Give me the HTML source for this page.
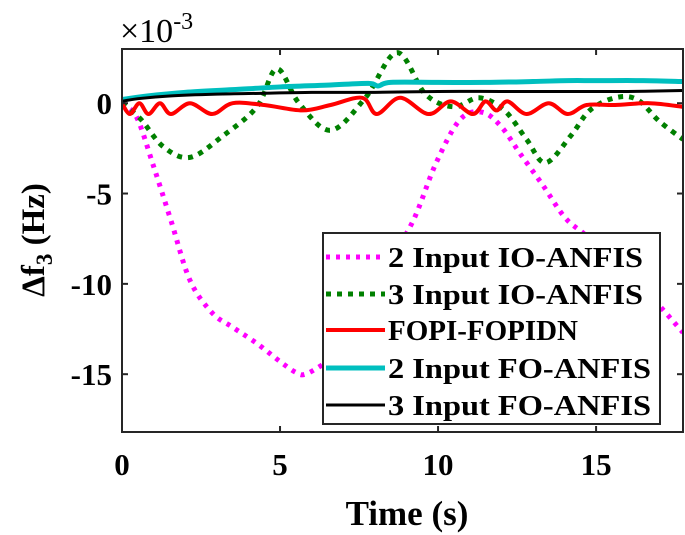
<!DOCTYPE html>
<html><head><meta charset="utf-8"><style>
body{margin:0;background:#fff}
svg{display:block;font-family:"Liberation Serif",serif;font-weight:bold}
</style></head><body>
<svg id="chart" width="685" height="535" viewBox="0 0 685 535" xmlns="http://www.w3.org/2000/svg">
<g id="plot"></g>
<g id="axes"></g>
<text transform="translate(44,240) rotate(-90)" text-anchor="middle" font-size="33">Δf<tspan font-size="23" dy="8">3</tspan><tspan dy="-8"> (Hz)</tspan></text>
<text x="407" y="525" text-anchor="middle" font-size="35">Time (s)</text>
<text x="120" y="42" font-size="34" font-weight="normal">×10<tspan font-size="24" dy="-13">-3</tspan></text>
<g id="legend"></g>
</svg>
<script>
const xTicks=[0,5,10,15];
const yTicks=[0,-5,-10,-15];
const seriesNames=["2 Input IO-ANFIS","3 Input IO-ANFIS","FOPI-FOPIDN","2 Input FO-ANFIS","3 Input FO-ANFIS"];
const magX=[0,0.47,1.0,1.55,2.15,2.85,3.5,4.27,5.0,5.5,5.8,6.4,7.0,7.5,8.0,8.5,9.24,9.94,10.7,11.4,12.0,12.6,13.3,14.0,14.6,15.5,16.3,17.05,17.75];
const magY=[0,-0.8,-3.5,-6.5,-9.8,-11.6,-12.4,-13.3,-14.3,-14.9,-15.0,-14.4,-13.5,-12.0,-10.3,-8.7,-6.4,-3.3,-0.9,-0.5,-1.3,-2.8,-4.5,-6.3,-7.2,-8.5,-9.9,-11.3,-12.7];
const grnX=[0,0.6,1.3,2.15,3.2,4.27,4.9,5.6,6.6,7.7,8.7,9.6,10.5,11.3,12.1,12.8,13.4,14.2,14.8,15.6,16.3,17.0,17.75];
const grnY=[0,-0.9,-2.4,-3.0,-1.8,-0.2,1.9,0,-1.5,0.3,2.8,0.5,-0.2,0.3,-0.4,-2.0,-3.3,-1.8,-0.4,0.3,0.2,-1.0,-2.0];
const redX=[0,0.25,0.55,0.84,1.2,1.55,2.15,2.85,3.5,4.5,5.7,6.6,7.6,8.06,8.8,9.7,10.4,11.1,11.5,11.85,12.2,12.8,13.5,14.1,14.7,15.6,16.7,17.75];
const redY=[0,-0.6,0,-0.6,0,-0.6,0,-0.6,0,-0.1,-0.4,-0.1,0.3,-0.6,0.3,-0.6,0.1,-0.6,0.1,-0.4,0.1,-0.6,0,-0.6,-0.1,-0.1,0,-0.2];
const cyX=[0,0.8,2.0,3.5,5.0,6.5,7.8,8.1,8.5,10.0,11.5,13.0,14.1,15.0,16.5,17.75];
const cyY=[0.2,0.4,0.6,0.75,0.9,1.0,1.1,0.95,1.15,1.15,1.15,1.2,1.25,1.25,1.25,1.2];
const bkX=[0,0.5,1.5,3.0,4.5,6.0,8.0,10.0,12.0,14.0,16.0,17.75];
const bkY=[0.1,0.25,0.4,0.5,0.55,0.6,0.6,0.65,0.65,0.65,0.65,0.7];

const L=122,R=683,T=49,B=432,xMin=0,xMax=17.75,yMin=-18.2,yMax=3.0;
const sx=v=>L+(v-xMin)/(xMax-xMin)*(R-L);
const sy=v=>B-(v-yMin)/(yMax-yMin)*(B-T);
const NS="http://www.w3.org/2000/svg";
function mk(tag,attrs,parent){const e=document.createElementNS(NS,tag);for(const k in attrs)e.setAttribute(k,attrs[k]);parent.appendChild(e);return e;}
const plot=document.getElementById('plot'),axes=document.getElementById('axes'),leg=document.getElementById('legend');
function smooth(xs,ys){const p=xs.map((x,i)=>[sx(x),sy(ys[i])]);let d=`M${p[0][0]},${p[0][1]}`;for(let i=0;i<p.length-1;i++){const p0=p[i-1]||p[i],p1=p[i],p2=p[i+1],p3=p[i+2]||p2;d+=` C${p1[0]+(p2[0]-p0[0])/6},${p1[1]+(p2[1]-p0[1])/6} ${p2[0]-(p3[0]-p1[0])/6},${p2[1]-(p3[1]-p1[1])/6} ${p2[0]},${p2[1]}`;}return d;}
const styles=[
 {xs:magX,ys:magY,c:"#ff00ff",w:5,da:"4,6",name:"series-2-input-io-anfis"},
 {xs:grnX,ys:grnY,c:"#008000",w:5,da:"5,6",name:"series-3-input-io-anfis"},
 {xs:redX,ys:redY,c:"#ff0000",w:4,da:"",name:"series-fopi-fopidn"},
 {xs:cyX,ys:cyY,c:"#00bfbf",w:5,da:"",name:"series-2-input-fo-anfis"},
 {xs:bkX,ys:bkY,c:"#000000",w:3,da:"",name:"series-3-input-fo-anfis"}];
mk('clipPath',{id:'clip'},plot).appendChild(document.createElementNS(NS,'rect'));
const cr=plot.querySelector('clipPath rect');cr.setAttribute('x',L);cr.setAttribute('y',T);cr.setAttribute('width',R-L);cr.setAttribute('height',B-T);
styles.forEach(s=>{
 const p=mk('path',{d:smooth(s.xs,s.ys),fill:"none",stroke:s.c,"stroke-width":s.w,"stroke-dasharray":s.da,"clip-path":"url(#clip)"},plot);
 
 
});
const box=mk('rect',{x:L,y:T,width:R-L,height:B-T,fill:"none",stroke:"#262626","stroke-width":2},axes);


xTicks.forEach(v=>{
 const x=sx(v);
 mk('line',{x1:x,x2:x,y1:B,y2:B-6,stroke:"#262626","stroke-width":2},axes);
 mk('line',{x1:x,x2:x,y1:T,y2:T+6,stroke:"#262626","stroke-width":2},axes);
 const t=mk('text',{x:x,y:B+43,"text-anchor":"middle","font-size":31},axes);t.textContent=v;
 
 
});
yTicks.forEach(v=>{
 const y=sy(v);
 mk('line',{x1:L,x2:L+6,y1:y,y2:y,stroke:"#262626","stroke-width":2},axes);
 mk('line',{x1:R,x2:R-6,y1:y,y2:y,stroke:"#262626","stroke-width":2},axes);
 const t=mk('text',{x:L-10,y:y+11,"text-anchor":"end","font-size":31},axes);t.textContent=v;
 
 
});
const lb=mk('rect',{x:323,y:233,width:337,height:191,fill:"#fff",stroke:"#262626","stroke-width":2},leg);


const rows=[257,294,330,368,405];
const tl=[255,255,190,263,263];
styles.forEach((s,i)=>{
 const g=mk('g',{},leg);
 
 
 mk('line',{x1:326,x2:385,y1:rows[i],y2:rows[i],stroke:s.c,"stroke-width":s.w,"stroke-dasharray":s.da},g);
 const t=mk('text',{x:388,y:rows[i]+10,"font-size":29,textLength:tl[i],lengthAdjust:"spacingAndGlyphs"},g);t.textContent=seriesNames[i];
});
</script>
</body></html>
